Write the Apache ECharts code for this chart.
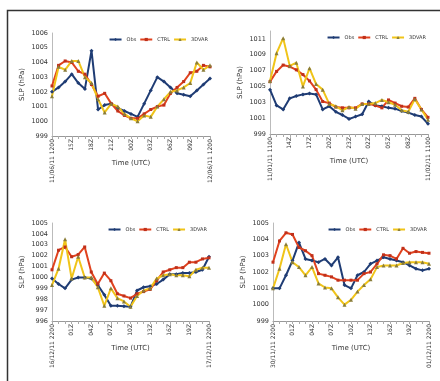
<!DOCTYPE html>
<html><head><meta charset="utf-8">
<script src="https://cdn.jsdelivr.net/npm/echarts@6/dist/echarts.min.js"></script>
<style>html,body{margin:0;padding:0;background:#fff;}#c{width:440px;height:381px;}</style>
</head><body><div id="c"></div>
<script>
// Tick labels (every 3rd hour shown)
var ticks1 = ['11/06/11 1200','15Z','18Z','21Z','00Z','03Z','06Z','09Z','12/06/11 1200'];
var ticks2 = ['11/01/11 1100','14Z','17Z','20Z','23Z','02Z','05Z','08Z','11/02/11 1100'];
var ticks3 = ['16/12/11 2200','01Z','04Z','07Z','10Z','13Z','16Z','19Z','17/12/11 2200'];
var ticks4 = ['30/11/11 2200','01Z','04Z','07Z','10Z','13Z','16Z','19Z','01/12/11 2200'];

// Panel 1
var obs1  = [1002.0,1002.3,1002.7,1003.2,1002.6,1002.2,1004.8,1000.8,1001.1,1001.2,1000.9,1000.7,1000.5,1000.3,1001.2,1002.1,1003.0,1002.7,1002.3,1001.9,1001.8,1001.7,1002.1,1002.5,1002.9];
var ctrl1 = [1002.4,1003.8,1004.1,1004.0,1003.4,1003.2,1002.5,1001.7,1001.9,1001.2,1000.7,1000.4,1000.2,1000.2,1000.5,1000.8,1001.0,1001.1,1001.9,1002.3,1002.7,1003.3,1003.4,1003.8,1003.7];
var var1  = [1001.7,1003.7,1003.5,1004.1,1004.1,1003.0,1002.6,1001.5,1000.6,1001.2,1001.0,1000.5,1000.2,1000.0,1000.4,1000.3,1001.0,1001.5,1002.0,1002.1,1002.3,1002.6,1004.0,1003.5,1003.8];
// Panel 2
var obs2  = [1004.6,1002.6,1002.1,1003.5,1003.8,1004.0,1004.1,1004.0,1002.1,1002.5,1001.8,1001.4,1000.9,1001.2,1001.5,1003.1,1002.6,1002.5,1002.3,1002.2,1001.9,1001.7,1001.4,1001.2,1000.3];
var ctrl2 = [1005.6,1006.9,1007.7,1007.5,1007.1,1006.5,1005.7,1004.6,1003.1,1002.9,1002.4,1002.3,1002.3,1002.3,1002.8,1002.8,1002.6,1002.3,1003.3,1002.9,1002.5,1002.4,1003.5,1002.1,1001.1];
var var2  = [1005.7,1009.2,1011.1,1007.6,1008.0,1005.0,1007.3,1005.3,1004.6,1002.8,1002.5,1002.0,1002.4,1002.2,1002.8,1002.8,1002.9,1003.3,1003.0,1002.7,1002.0,1001.8,1003.4,1002.1,1000.8];
// Panel 3
var obs3  = [999.9,999.4,999.0,999.8,1000.0,1000.0,999.9,999.3,998.4,997.4,997.4,997.35,997.3,998.8,999.1,999.2,999.4,999.8,1000.3,1000.3,1000.4,1000.4,1000.5,1000.7,1001.9];
var ctrl3 = [1000.7,1002.5,1002.8,1001.9,1002.1,1002.8,1000.5,999.4,1000.4,999.7,998.5,998.3,998.1,998.5,998.7,998.9,999.7,1000.5,1000.7,1000.9,1000.9,1001.4,1001.4,1001.7,1001.8];
var var3  = [999.3,1000.8,1003.5,999.9,1001.9,1000.0,1000.0,999.1,997.4,999.0,998.1,997.8,997.3,998.3,998.8,999.0,999.9,1000.2,1000.3,1000.2,1000.2,1000.1,1000.7,1000.9,1000.9];
// Panel 4
var obs4  = [1001.0,1001.0,1001.8,1002.7,1003.8,1002.8,1002.7,1002.6,1002.8,1002.4,1002.9,1001.2,1001.0,1001.8,1002.0,1002.5,1002.7,1002.9,1002.8,1002.7,1002.6,1002.4,1002.2,1002.1,1002.2];
var ctrl4 = [1002.6,1003.9,1004.4,1004.3,1003.5,1003.3,1003.0,1001.9,1001.8,1001.7,1001.5,1001.5,1001.5,1001.5,1001.9,1002.0,1002.5,1003.05,1003.0,1002.8,1003.45,1003.15,1003.25,1003.2,1003.15];
var var4  = [1001.0,1002.2,1003.7,1002.6,1002.3,1001.8,1002.3,1001.3,1001.05,1001.0,1000.45,1000.0,1000.3,1000.8,1001.2,1001.55,1002.3,1002.4,1002.4,1002.4,1002.55,1002.6,1002.6,1002.6,1002.5];

var panels = [
  {ticks:ticks1, obs:obs1, ctrl:ctrl1, v:var1, min:999, max:1006, itv:1, grid:{left:52, top:33, width:158, height:103}},
  {ticks:ticks2, obs:obs2, ctrl:ctrl2, v:var2, min:999, max:1012, itv:2, grid:{left:270, top:31, width:158, height:103}},
  {ticks:ticks3, obs:obs3, ctrl:ctrl3, v:var3, min:996, max:1005, itv:1, grid:{left:52, top:223, width:157, height:98}},
  {ticks:ticks4, obs:obs4, ctrl:ctrl4, v:var4, min:999, max:1005, itv:1, grid:{left:273, top:223, width:156, height:98}}
];

var COL_OBS = '#1f3c74', COL_CTRL = '#e0421e', COL_VAR = '#f0c419';
var grids = [], xAxes = [], yAxes = [], series = [], legends = [];
panels.forEach(function(p, k){
  grids.push(p.grid);
  var cats = p.obs.map(function(_, i){ return i; });
  xAxes.push({
    type:'category', gridIndex:k, data:cats, boundaryGap:false,
    name:'Time (UTC)', nameLocation:'middle', nameGap:24, nameMoveOverlap:false,
    nameTextStyle:{fontSize:7, color:'#333', fontFamily:'DejaVu Sans'},
    axisLine:{lineStyle:{color:'#999', width:1}},
    axisTick:{show:true, interval:0, length:3, lineStyle:{color:'#aaa'}},
    axisLabel:{interval:0, rotate:90, fontSize:6, color:'#333', margin:3, fontFamily:'DejaVu Sans',
      formatter:(function(t){ return function(v, i){ return (i % 3 === 0) ? t[i/3] : ''; }; })(p.ticks)},
    splitLine:{show:false}
  });
  yAxes.push({
    type:'value', gridIndex:k, min:p.min, max:p.max, interval:p.itv,
    name:'SLP (hPa)', nameLocation:'middle', nameGap:26, nameRotate:90, nameMoveOverlap:false,
    nameTextStyle:{fontSize:7, color:'#333', fontFamily:'DejaVu Sans'},
    axisLine:{show:true, lineStyle:{color:'#bbb'}},
    axisTick:{show:false},
    axisLabel:{fontSize:6.5, color:'#333', margin:4, fontFamily:'DejaVu Sans', showMaxLabel: k===1 ? false : true,
      formatter:function(v){ return String(v); }},
    splitLine:{show:false}
  });
  series.push({name:'Obs', type:'line', xAxisIndex:k, yAxisIndex:k, data:p.obs,
    symbol:'diamond', symbolSize:4, lineStyle:{color:COL_OBS, width:2}, itemStyle:{color:COL_OBS}});
  series.push({name:'CTRL', type:'line', xAxisIndex:k, yAxisIndex:k, data:p.ctrl,
    symbol:'rect', symbolSize:3, lineStyle:{color:COL_CTRL, width:2}, itemStyle:{color:'#c0301a'}});
  series.push({name:'3DVAR', type:'line', xAxisIndex:k, yAxisIndex:k, data:p.v,
    symbol:'triangle', symbolSize:4, lineStyle:{color:COL_VAR, width:2}, itemStyle:{color:'#8a7d3a'}});
  legends.push({
    data:['Obs','CTRL','3DVAR'], right: 440 - (p.grid.left + p.grid.width) + 2, top: p.grid.top + 4,
    itemWidth:12, itemHeight:4, itemGap:3, textStyle:{fontSize:5, color:'#333', fontFamily:'DejaVu Sans'},
    padding:0
  });
});

var chart = echarts.init(document.getElementById('c'));
chart.setOption({
  animation:false,
  backgroundColor:'#fff',
  graphic:[{type:'rect', shape:{x:7.5, y:10.5, width:440, height:380}, style:{fill:'none', stroke:'#333', lineWidth:1.5}}],
  grid:grids, xAxis:xAxes, yAxis:yAxes, series:series, legend:legends
});
</script></body></html>
